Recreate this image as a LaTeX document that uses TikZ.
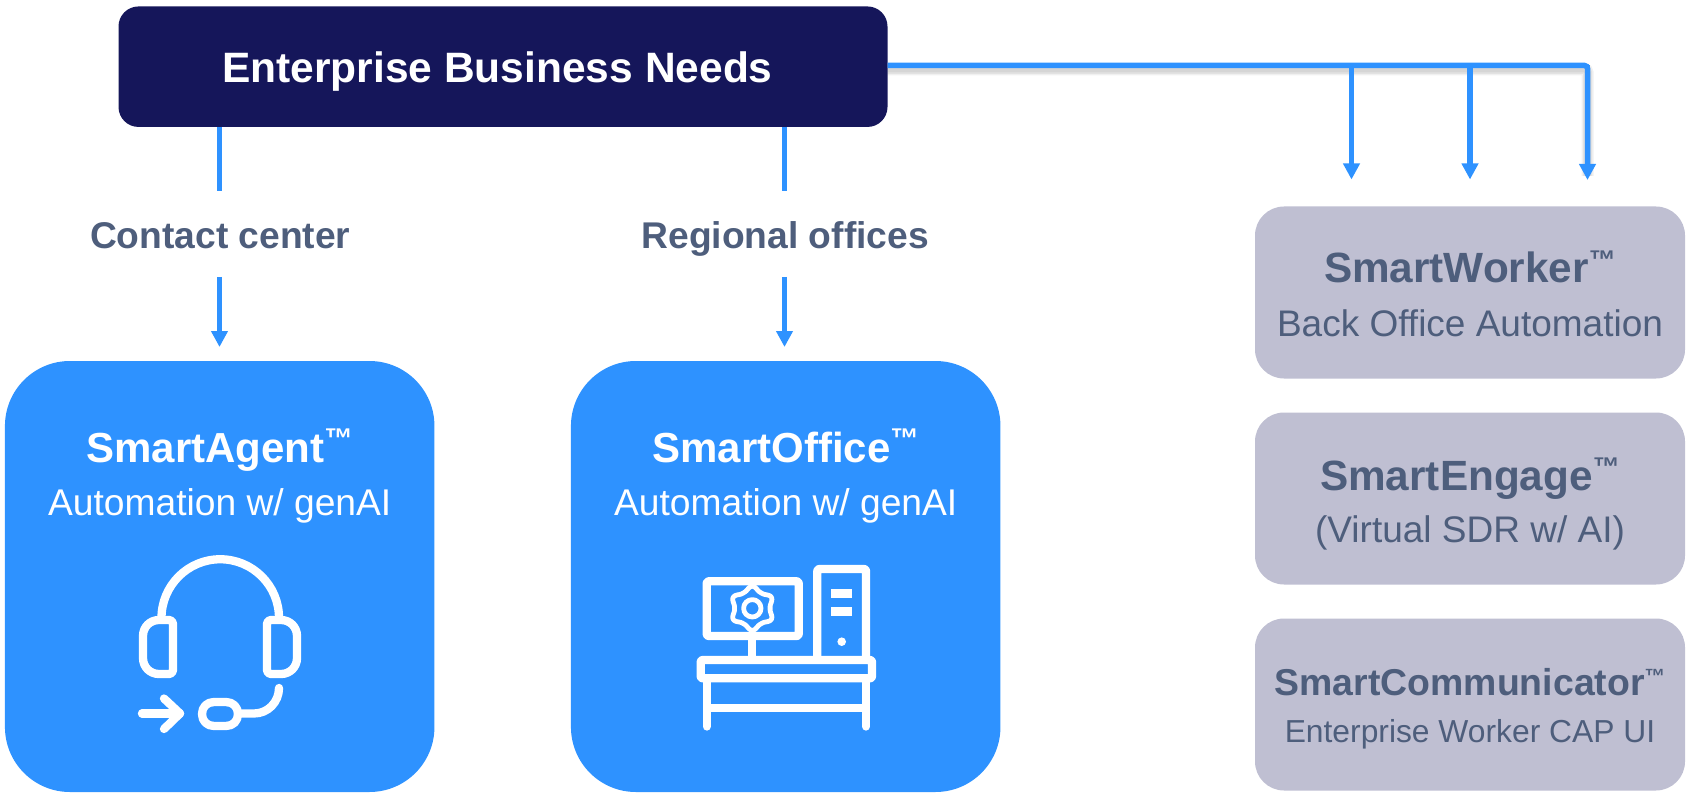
\documentclass[tikz,border=0pt]{standalone}
\usepackage{fontspec}
\usepackage{graphicx}
\setmainfont{Liberation Sans}
\usetikzlibrary{arrows.meta}
\definecolor{navy}{HTML}{15165A}
\definecolor{skyb}{HTML}{2E92FF}
\definecolor{greyb}{HTML}{BFBFD2}
\definecolor{slate}{HTML}{4E5E7C}
\newcommand\tmark[1]{\raisebox{.32em}{\scalebox{#1}{™}}}
\newcommand\fs[1]{\fontsize{#1}{#1}\selectfont}
\tikzset{
  boxbase/.style={inner sep=0,outer sep=0,anchor=center},
  topbox/.style={boxbase,fill=navy,minimum width=769pt,minimum height=120.5pt,rounded corners=20pt},
  bluebox/.style={boxbase,fill=skyb,minimum width=429.5pt,minimum height=431pt,rounded corners=65pt},
  greybox/.style={boxbase,fill=greyb,minimum width=430pt,minimum height=172pt,rounded corners=29pt},
  flowlabel/.style={inner sep=0,outer sep=0,text=slate,font=\fs{37.2}\bfseries,text height=37pt,text depth=7pt,minimum height=86pt},
  blue title/.style={anchor=base,inner sep=0,text=white,font=\fs{42}\bfseries},
  blue sub/.style={anchor=base,inner sep=0,text=white,font=\fs{37.2}},
  grey title/.style={anchor=base,inner sep=0,text=slate,font=\fs{42.3}\bfseries},
  grey sub/.style={anchor=base,inner sep=0,text=slate,font=\fs{37}},
  conn/.style={draw=skyb,line width=5.5pt},
  tipconn/.style={conn,-{Triangle[length=16pt,width=16pt]}},
  busshadow/.style={draw=black,line width=#1,opacity=.06},
  icon/.style={draw=white,line width=8.3pt,line cap=round,line join=round},
  gearline/.style={draw=white,line width=4.8pt,line join=round},
}
\begin{document}
\begin{tikzpicture}[x=1pt,y=-1pt]
\useasboundingbox (0,0) rectangle (1689,794);
% boxes
\node[topbox] (needs) at (503,66.7) {};
\node[anchor=base,inner sep=0,text=white,font=\fs{42.5}\bfseries] (needstext) at (497.5,83) {Enterprise Business Needs};
\node[flowlabel] (contact) at (219.5,234) {\hspace{1.5pt}Contact center};
\node[flowlabel] (regional) at (784.5,234) {\hspace{1.5pt}Regional offices};
\node[bluebox] (agent) at (219.7,576.5) {};
\node[bluebox] (office) at (785.7,576.5) {};
\node[greybox] (worker) at (1470,292.5) {};
\node[greybox] (engage) at (1470,498.5) {};
\node[greybox] (comm) at (1470,704.5) {};
% texts
\node[blue title] (t1) at (219.7,462) {SmartAgent\tmark{.68}};
\node[blue sub] (s1) at (219.7,515) {Automation w/ genAI};
\node[blue title] (t2) at (785.7,462) {SmartOffice\tmark{.68}};
\node[blue sub] (s2) at (785.7,515) {Automation w/ genAI};
\node[grey title] (t3) at (1470,283) {SmartWorker\tmark{.64}};
\node[grey sub] (s3) at (1470,336) {Back Office Automation};
\node[grey title] (t4) at (1470,490) {SmartEngage\tmark{.64}};
\node[grey sub] (s4) at (1470,542) {(Virtual SDR w/ AI)};
\node[grey title,font=\fs{37.4}\bfseries] (t5) at (1470,695) {SmartCommunicator\tmark{.55}};
\node[grey sub,font=\fs{31.8}] (s5) at (1470,742.7) {Enterprise Worker CAP UI};
% connectors
\draw[conn] (contact.north |- needs.south) -- (contact.north);
\draw[conn] (regional.north |- needs.south) -- (regional.north);
\draw[tipconn,shorten >=14pt] (contact.south) -- (contact.south |- agent.north);
\draw[tipconn,shorten >=14pt] (regional.south) -- (regional.south |- office.north);
\coordinate (b1) at (1351.5,65.5);
\coordinate (b2) at (1470,65.5);
\coordinate (b3) at (1587.5,65.5);
\coordinate (e3) at (1587.5,207);
\coordinate (sb) at (1587.5,69.5);
\coordinate (se) at (1587.5,176);
\foreach \w in {12,9,6}{
  \draw[busshadow=\w pt,rounded corners=3pt] (needs.east |- sb) -- (sb) -- (se);
}
\draw[conn,rounded corners=3pt,shorten >=43pt] (needs.east |- b3) -- (b3) -- (e3);
\draw[tipconn,shorten >=27pt] (b1) -- (b1 |- worker.north);
\draw[tipconn,shorten >=27pt] (b2) -- (b2 |- worker.north);
\draw[tipconn,shorten >=27pt] (b3) -- (e3);
% headset icon
\draw[icon] (161.5,618) arc[start angle=180,end angle=360,radius=58.75];
\draw[icon] (173,624) .. controls (173,621.5) and (171.5,620) .. (169,620)
  -- (159,620) .. controls (150,620) and (143,627) .. (143,636)
  -- (143,658) .. controls (143,667) and (150,674) .. (159,674)
  -- (169,674) .. controls (171.5,674) and (173,672.5) .. (173,670) -- cycle;
\draw[icon] (267,624) .. controls (267,621.5) and (268.5,620) .. (271,620)
  -- (281,620) .. controls (290,620) and (297,627) .. (297,636)
  -- (297,658) .. controls (297,667) and (290,674) .. (281,674)
  -- (271,674) .. controls (268.5,674) and (267,672.5) .. (267,670) -- cycle;
\draw[icon] (202,714) .. controls (202,707) and (207,702) .. (214,702) -- (226,702)
  .. controls (233,702) and (238,707) .. (238,714) .. controls (238,721) and (233,726) .. (226,726)
  -- (214,726) .. controls (207,726) and (202,721) .. (202,714) -- cycle;
\draw[icon] (240,713.5) -- (254,713.5) .. controls (268,713.5) and (279,702) .. (279,688);
\draw[icon] (142,713.5) -- (180,713.5);
\draw[icon] (164,698.5) -- (180,713.5) -- (164,729);
% desktop icon
\draw[icon,rounded corners=2pt] (706.7,581.3) rectangle (798.7,636);
\draw[icon,line cap=butt] (752.3,636) -- (752.3,660);
\draw[icon,line cap=butt,rounded corners=2pt] (817.3,660) -- (817.3,569) -- (866,569) -- (866,660);
\draw[icon,rounded corners=2pt] (700.7,660) rectangle (872,678.3);
\draw[icon] (706.7,678.3) -- (706.7,726.5);
\draw[icon] (866,678.3) -- (866,726.5);
\draw[icon,line cap=butt] (706.7,708.3) -- (866,708.3);
\fill[white] (831.3,589.3) rectangle (852.3,598);
\fill[white] (831.3,607.3) rectangle (852.3,616);
\fill[white] (841.7,641.7) circle[radius=4.3];
\draw[gearline] plot[domain=0:360,samples=181,smooth cycle] ({752.3+(17.8+4.2*((1-cos(6*\x))/2)^1.5)*cos(\x)},{608.3+(17.8+4.2*((1-cos(6*\x))/2)^1.5)*sin(\x)});
\draw[gearline] (752.3,608.3) circle[radius=8.7];
\draw[gearline] (752.3,581.3) -- (752.3,588);
\draw[gearline] (752.3,629) -- (752.3,636);
\end{tikzpicture}
\end{document}
